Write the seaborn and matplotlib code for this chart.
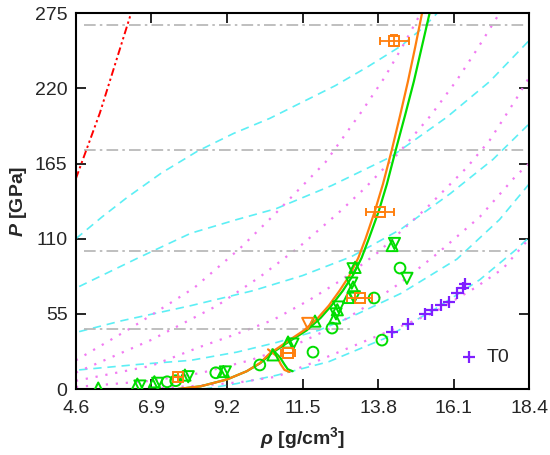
import numpy as np
import pandas as pd
import matplotlib
matplotlib.use("Agg")
import matplotlib.pyplot as plt
import seaborn as sns

# ---- curves (rho [g/cm3], P [GPa]) ----
cyan1_x = [4.6, 5.4, 6.15, 7.2, 8.3, 9.4, 10.5, 11.5, 12.5, 13.5, 14.5, 15.2, 15.6]
cyan1_y = [110, 126, 140, 158, 174, 187, 198, 210, 222, 236, 251, 265, 275]
cyan2_x = [4.7, 6.5, 8.1, 9.5, 10.7, 12.4, 14.2, 15.9, 17.2, 18.4]
cyan2_y = [75, 96, 114, 124, 132, 149, 170, 199, 225, 255]
cyan3_x = [4.7, 6.0, 8.1, 10.0, 11.5, 13.0, 14.5, 16.0, 17.3, 18.4]
cyan3_y = [42, 50, 61, 72, 83, 97, 117, 143, 168, 194]
cyan4_x = [4.7, 6.5, 8.1, 9.5, 10.7, 12.0, 13.0, 14.5, 16.2, 17.5, 18.4]
cyan4_y = [14, 18, 21, 27, 34, 43, 53, 70, 95, 124, 150]
cyan5_x = [8.5, 9.5, 10.7, 12.3, 14.0, 15.5, 16.9, 18.0, 18.4]
cyan5_y = [0, 4, 10, 20, 37, 58, 80, 102, 111]

mag1_x = [4.6, 6.3, 8.2, 9.6, 10.7, 12.2, 13.3, 14.0, 14.6, 15.1]
mag1_y = [21, 45, 74, 103, 129, 166, 203, 228, 253, 275]
mag2_x = [4.6, 6.9, 8.9, 10.2, 11.4, 12.6, 13.4, 14.4, 15.4, 16.2, 16.8, 17.5]
mag2_y = [12, 36, 61, 82, 104, 129, 147, 172, 200, 226, 248, 275]
mag3_x = [4.6, 6.9, 8.4, 9.4, 10.6, 11.7, 12.7, 13.8, 15.3, 16.5, 17.2, 18.0, 18.4]
mag3_y = [6, 17, 31, 39.5, 50.5, 65, 80, 100, 133, 162, 182, 212, 228]
mag4_x = [4.6, 6.9, 8.4, 9.9, 11.4, 12.4, 13.4, 14.5, 15.6, 16.9, 18.0, 18.4]
mag4_y = [1.5, 6, 11.7, 21, 33.6, 45, 60, 78, 99, 126, 156, 165]
mag5_x = [6.6, 8.4, 9.6, 10.7, 11.9, 13.2, 14.2, 15.5, 16.75, 17.6, 18.4]
mag5_y = [0, 2.5, 5, 9, 20, 33, 43, 56, 74, 88, 110]

red_x = [4.6, 5.33, 6.28]
red_y = [154, 202, 275]

grey_levels = [266.7, 174.8, 101.2, 43.7]
grey_start = [4.85, 4.85, 4.85, 4.85]
grey_end = [18.3, 18.3, 17.75, 13.0]

hug_y = [0, 2, 7, 13, 19, 26, 30, 35, 43, 52, 61, 72, 83, 96, 110, 130,
         150, 175, 200, 225, 250, 275]
orange_x = [7.7, 8.4, 9.2, 9.8, 10.2, 10.5, 10.75, 11.05, 11.55, 11.97, 12.3, 12.63,
            12.93, 13.2, 13.42, 13.7, 13.95, 14.22, 14.47, 14.71, 14.93, 15.14]
green_x = [7.7, 8.4, 9.2, 9.8, 10.22, 10.55, 10.8, 11.11, 11.63, 12.05, 12.38, 12.73,
           13.03, 13.3, 13.52, 13.82, 14.07, 14.34, 14.62, 14.89, 15.13, 15.37]
orange_hook_x = [10.45, 10.72, 10.84, 10.95, 11.1]
orange_hook_y = [29, 24, 18, 14, 12.5]
green_hook_x = [10.58, 10.82, 10.95, 11.05, 11.2]
green_hook_y = [29, 23, 18, 14.5, 13]

# ---- experimental points ----
circ_x = [7.38, 7.64, 8.86, 10.2, 11.82, 12.4, 13.68, 13.92, 14.47]
circ_y = [5.3, 6.1, 11.9, 17.6, 27, 44.6, 66.6, 35.8, 88.5]
up_x = [5.28, 6.47, 6.99, 7.92, 9.09, 10.6, 11.06, 11.88, 12.48, 12.56, 12.9, 13.04, 13.1, 14.23]
up_y = [0.7, 3.6, 5.3, 10.2, 12.8, 25, 34.4, 49.7, 52, 58, 67, 74.6, 89, 105]
down_x = [6.55, 7.09, 8.02, 9.15, 11.21, 12.52, 12.6, 13.08, 13.0, 13.04, 14.3, 14.68]
down_y = [2.2, 4.2, 9.0, 12.5, 32.9, 55, 60, 67.5, 77.5, 88, 106.5, 81]
sq_x = [7.72, 11.06, 13.25, 13.86, 14.3]
sq_y = [9.0, 26.3, 66.6, 129.7, 254.7]
sq_xerr = [0.0, 0.22, 0.38, 0.43, 0.44]
sq_yerr = [0.0, 0.0, 0.0, 0.0, 4.0]
odown_x = [11.66]
odown_y = [48.0]
t0_x = [14.23, 14.71, 15.23, 15.44, 15.72, 15.96, 16.2, 16.39, 16.45]
t0_y = [41.7, 47.5, 54.9, 57.8, 61.4, 63.6, 70.2, 73.9, 76.8]

x_ticks = [4.6, 6.9, 9.2, 11.5, 13.8, 16.1, 18.4]
y_ticks = [0, 55, 110, 165, 220, 275]

CYAN = "#5DEFF5"
MAGENTA = "#F27AF2"
GREY = "#B4B4B4"
ORANGE = "#FF7F0E"
GREEN = "#00DD00"
PURPLE = "#7F1FFF"

sns.set_style("ticks")
plt.rcParams["font.family"] = ["Liberation Sans", "DejaVu Sans"]
plt.rcParams["mathtext.fontset"] = "custom"
plt.rcParams["mathtext.rm"] = "Liberation Sans"
plt.rcParams["mathtext.it"] = "Liberation Sans:italic"
plt.rcParams["mathtext.bf"] = "Liberation Sans:bold"
try:
    plt.rcParams["mathtext.bfit"] = "Liberation Sans:italic:bold"
    has_bfit = True
except KeyError:
    has_bfit = False

fig = plt.figure(figsize=(5.5, 4.55), dpi=100)
ax = fig.add_axes([0.138, 0.145, 0.824, 0.826])


def curve(xs, ys, color, ls, lw=1.3, sort=True):
    df = pd.DataFrame({"x": xs, "y": ys})
    sns.lineplot(data=df, x="x", y="y", ax=ax, color=color, linestyle=ls,
                 linewidth=lw, sort=sort, estimator=None, legend=False)


for cx, cy in [(cyan1_x, cyan1_y), (cyan2_x, cyan2_y), (cyan3_x, cyan3_y),
               (cyan4_x, cyan4_y), (cyan5_x, cyan5_y)]:
    curve(cx, cy, CYAN, (0, (5, 3.5)), lw=1.2)

for mx, my in [(mag1_x, mag1_y), (mag2_x, mag2_y), (mag3_x, mag3_y),
               (mag4_x, mag4_y), (mag5_x, mag5_y)]:
    curve(mx, my, MAGENTA, (0, (1, 3.5)), lw=1.6)

for lvl, x0, x1 in zip(grey_levels, grey_start, grey_end):
    curve([x0, x1], [lvl, lvl], GREY, (0, (7, 2.5, 1.5, 2.5)), lw=1.2)

curve(red_x, red_y, "red", (0, (4, 1.6, 1.2, 1.6, 1.2, 1.6)), lw=1.4)

# green first so the shared lower branch shows orange, as in the figure
curve(green_x, hug_y, GREEN, "-", lw=1.6)
curve(green_hook_x, green_hook_y, GREEN, "-", lw=1.6, sort=False)
curve(orange_x, hug_y, ORANGE, "-", lw=1.6)
curve(orange_hook_x, orange_hook_y, ORANGE, "-", lw=1.6, sort=False)

sns.scatterplot(x=circ_x, y=circ_y, ax=ax, marker="o", s=60, facecolors="none",
                edgecolor=GREEN, linewidth=1.4, legend=False, zorder=5)
sns.scatterplot(x=up_x, y=up_y, ax=ax, marker="^", s=65, facecolors="none",
                edgecolor=GREEN, linewidth=1.4, legend=False, zorder=5)
sns.scatterplot(x=down_x, y=down_y, ax=ax, marker="v", s=65, facecolors="none",
                edgecolor=GREEN, linewidth=1.4, legend=False, zorder=5)
sns.scatterplot(x=odown_x, y=odown_y, ax=ax, marker="v", s=65, facecolors="none",
                edgecolor=ORANGE, linewidth=1.4, legend=False, zorder=5)
ax.errorbar(sq_x, sq_y, xerr=sq_xerr, yerr=sq_yerr, fmt="s", ms=6.5,
            mfc="none", mec=ORANGE, mew=1.4, ecolor=ORANGE, elinewidth=1.3,
            capsize=3, capthick=1.3, zorder=6)
sns.scatterplot(x=t0_x, y=t0_y, ax=ax, marker="+", s=75, color=PURPLE,
                linewidth=1.6, label="T0", zorder=5)

ax.set_xlim(4.6, 18.4)
ax.set_ylim(0, 275)
ax.set_xticks(x_ticks)
ax.set_yticks(y_ticks)
ax.set_xticklabels([f"{v:.1f}" for v in x_ticks])
ax.tick_params(direction="in", length=7, width=1.4, labelsize=14,
               top=True, right=True)
ax.tick_params(axis="x", pad=8)
ax.tick_params(axis="y", pad=6)
for sp in ax.spines.values():
    sp.set_linewidth(1.5)
    sp.set_color("black")

if has_bfit:
    xl = r"$\mathbfit{\rho}$ [g/cm$^\mathbf{3}$]"
    yl = r"$\mathbfit{P}$ [GPa]"
else:
    xl = r"$\rho$ [g/cm$^\mathbf{3}$]"
    yl = r"$P$ [GPa]"
ax.set_xlabel(xl, fontsize=14, fontweight="bold", labelpad=6)
ax.set_ylabel(yl, fontsize=14, fontweight="bold", labelpad=4)

ax.legend(loc="lower right", bbox_to_anchor=(0.995, 0.015), frameon=False,
          fontsize=14, handletextpad=0.3, handlelength=1.2)

fig.savefig("out.png", dpi=100)
